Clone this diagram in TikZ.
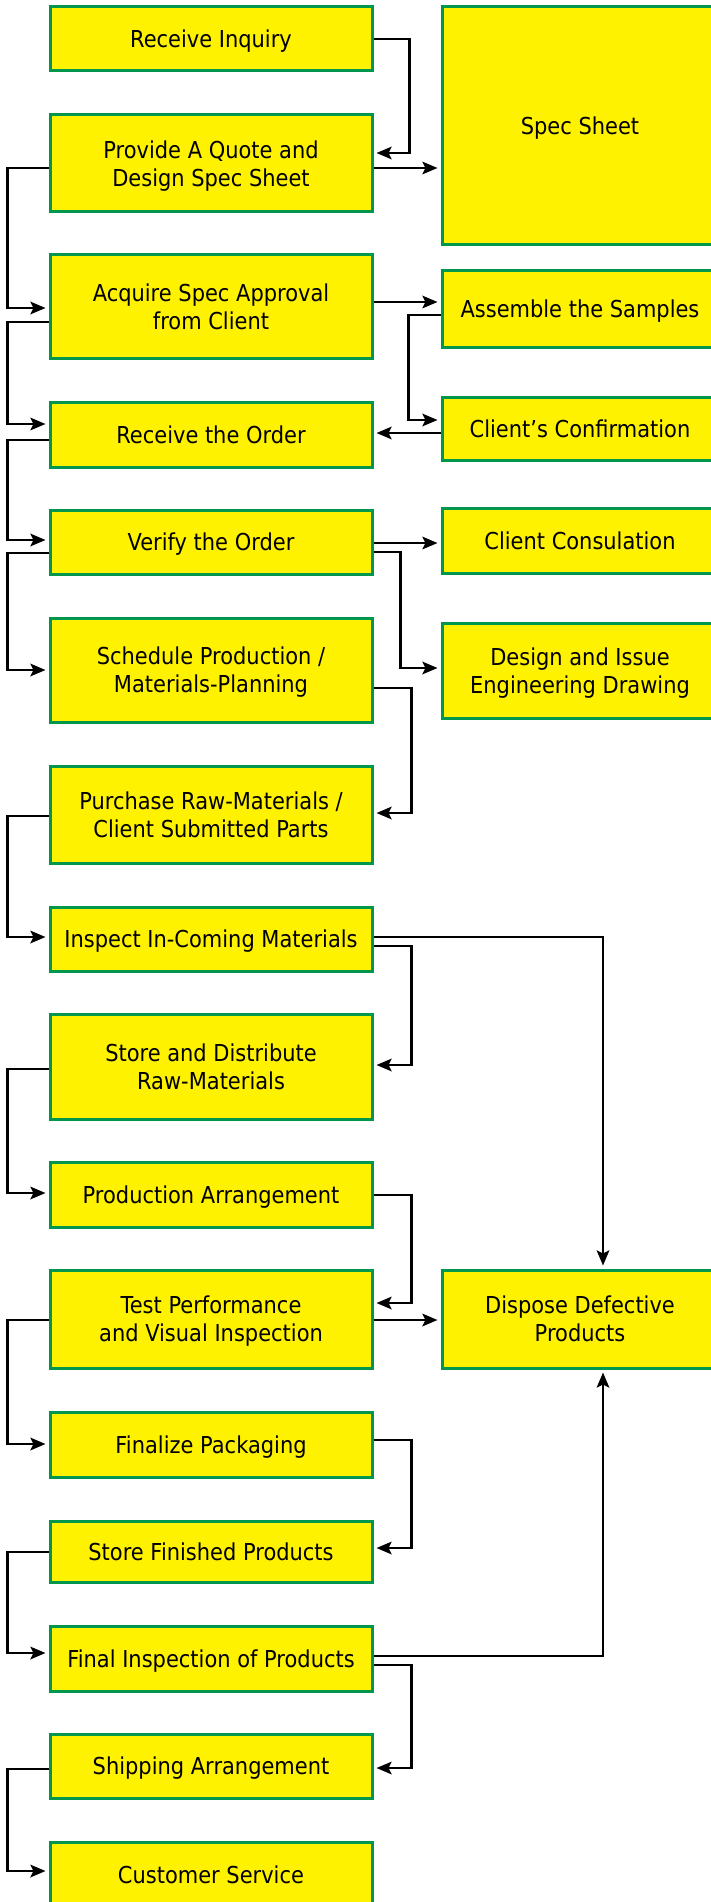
\documentclass[tikz,border=0pt]{standalone}
\usepackage{fontspec}
\setmainfont{DejaVu Sans}[FakeStretch=0.9]
\usetikzlibrary{arrows.meta,calc}
\definecolor{boxyellow}{HTML}{FFF200}
\definecolor{boxgreen}{HTML}{00964B}
\begin{document}
\begin{tikzpicture}[x=1pt,y=-1pt,
  box/.style={draw=boxgreen,fill=boxyellow,line width=3pt,align=center,
    inner sep=0pt,text depth=0pt,font=\fontsize{23.3pt}{28pt}\selectfont},
  lbox/.style={box,minimum width=322pt},
  rbox/.style={box,minimum width=276pt},
  arr/.style={line width=2.6pt,-{Stealth[length=15pt,width=12.5pt,inset=3pt]},shorten >=3pt}]
\useasboundingbox[fill=white] (0,0) rectangle (711,1902);
% left column
\node[lbox,minimum height=64pt]  (L1)  at (211,39)     {Receive Inquiry};
\node[lbox,minimum height=97pt]  (L2)  at (211,163.5)  {Provide A Quote and\\Design Spec Sheet};
\node[lbox,minimum height=103pt] (L3)  at (211,306.5)  {Acquire Spec Approval\\from Client};
\node[lbox,minimum height=65pt]  (L4)  at (211,434.5)  {Receive the Order};
\node[lbox,minimum height=64pt]  (L5)  at (211,542)    {Verify the Order};
\node[lbox,minimum height=104pt] (L6)  at (211,670)    {Schedule Production /\\Materials-Planning};
\node[lbox,minimum height=97pt]  (L7)  at (211,814.5)  {Purchase Raw-Materials /\\Client Submitted Parts};
\node[lbox,minimum height=64pt]  (L8)  at (211,939)    {Inspect In-Coming Materials};
\node[lbox,minimum height=105pt] (L9)  at (211,1066.5) {Store and Distribute\\Raw-Materials};
\node[lbox,minimum height=65pt]  (L10) at (211,1194.5) {Production Arrangement};
\node[lbox,minimum height=98pt]  (L11) at (211,1319)   {Test Performance\\and Visual Inspection};
\node[lbox,minimum height=65pt]  (L12) at (211,1444.5) {Finalize Packaging};
\node[lbox,minimum height=61pt]  (L13) at (211,1551.5) {Store Finished Products};
\node[lbox,minimum height=65pt]  (L14) at (211,1658.5) {Final Inspection of Products};
\node[lbox,minimum height=64pt]  (L15) at (211,1766)   {Shipping Arrangement};
\node[lbox,minimum height=65pt]  (L16) at (211,1874.5) {Customer Service};
% right column
\node[rbox,minimum height=238pt] (R1) at (580,126)    {Spec Sheet};
\node[rbox,minimum height=77pt]  (R2) at (580,308.5)  {Assemble the Samples};
\node[rbox,minimum height=63pt]  (R3) at (580,428.5)  {Client’s Confirmation};
\node[rbox,minimum height=65pt]  (R4) at (580,540.5)  {Client Consulation};
\node[rbox,minimum height=95pt]  (R5) at (580,670.5)  {Design and Issue\\Engineering Drawing};
\node[rbox,minimum height=98pt]  (R6) at (580,1319)   {Dispose Defective\\Products};
% connectors
\draw[arr] (L1.east) -- ++(36,0) |- ([yshift=10.5pt]L2.east);
\draw[arr] ([yshift=-4.5pt]L2.east) -- ([yshift=-4.5pt]L2.east -| R1.west);
\draw[arr] ([yshift=-4.5pt]L2.west) -- ++(-41,0) |- ([yshift=-1.5pt]L3.west);
\draw[arr] ([yshift=4.5pt]L3.east) -- ([yshift=4.5pt]L3.east -| R2.west);
\draw[arr] ([yshift=-15.5pt]L3.west) -- ++(-41,0) |- ([yshift=10.5pt]L4.west);
\draw[arr] ([yshift=-6.5pt]R2.west) -- ++(-32,0) |- ([yshift=8.5pt]R3.west);
\draw[arr] ([yshift=-4.5pt]R3.west) -- ([yshift=-4.5pt]R3.west -| L4.east);
\draw[arr] ([yshift=-5.5pt]L4.west) -- ++(-41,0) |- ([yshift=2pt]L5.west);
\draw[arr] ([yshift=-1pt]L5.east) -- ([yshift=-1pt]L5.east -| R4.west);
\draw[arr] ([yshift=-10pt]L5.east) -- ++(27,0) |- ([yshift=2.5pt]R5.west);
\draw[arr] ([yshift=-11pt]L5.west) -- ++(-41,0) |- (L6.west);
\draw[arr] ([yshift=-18pt]L6.east) -- ++(38,0) |- ([yshift=1.5pt]L7.east);
\draw[arr] ([yshift=-1.5pt]L7.west) -- ++(-41,0) |- ([yshift=2pt]L8.west);
\draw[arr] ([yshift=2pt]L8.east) -| ([xshift=23pt]R6.north);
\draw[arr] ([yshift=-7pt]L8.east) -- ++(38,0) |- ([yshift=1.5pt]L9.east);
\draw[arr] ([yshift=-2.5pt]L9.west) -- ++(-41,0) |- ([yshift=1.5pt]L10.west);
\draw[arr] ([yshift=-0.5pt]L10.east) -- ++(38,0) |- ([yshift=16pt]L11.east);
\draw[arr] ([yshift=-1pt]L11.east) -- ([yshift=-1pt]L11.east -| R6.west);
\draw[arr] ([yshift=-1pt]L11.west) -- ++(-41,0) |- ([yshift=0.5pt]L12.west);
\draw[arr] ([yshift=4.5pt]L12.east) -- ++(38,0) |- ([yshift=3.5pt]L13.east);
\draw[arr] ([yshift=-0.5pt]L13.west) -- ++(-41,0) |- ([yshift=5.5pt]L14.west);
\draw[arr] ([yshift=2.5pt]L14.east) -| ([xshift=23pt]R6.south);
\draw[arr] ([yshift=-6.5pt]L14.east) -- ++(38,0) |- ([yshift=-2pt]L15.east);
\draw[arr] ([yshift=-3pt]L15.west) -- ++(-41,0) |- ([yshift=3.5pt]L16.west);
\end{tikzpicture}
\end{document}
